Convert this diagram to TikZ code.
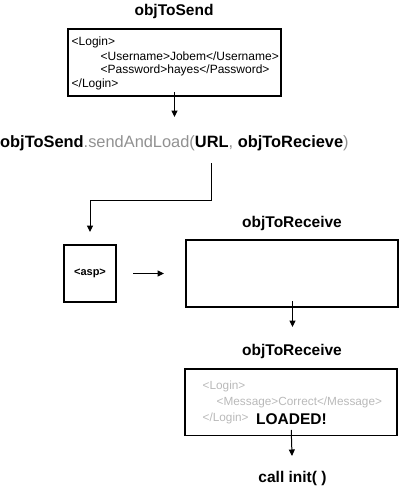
\documentclass[tikz,border=0pt]{standalone}
\usepackage{fontspec}
\setmainfont{Liberation Sans}
\usetikzlibrary{arrows.meta}
\definecolor{midgrey}{RGB}{145,145,145}
\definecolor{lightgrey}{RGB}{185,185,185}
\begin{document}
\begin{tikzpicture}[x=1pt,y=-1pt,
  title/.style={font=\fontsize{15.5}{18}\selectfont\bfseries, anchor=base, inner sep=0pt},
  box/.style={draw, line width=1.8pt, inner sep=0pt, outer sep=0pt},
  xml/.style={font=\fontsize{12}{14}\selectfont, anchor=base west, inner sep=0pt},
  ghost/.style={font=\fontsize{11.8}{14}\selectfont, text=lightgrey, anchor=base west, inner sep=0pt},
  arr/.style={line width=1pt, -{Triangle[length=6.5pt,width=6pt]}}
]
\useasboundingbox (0,0) rectangle (400,487);
% top object
\node[title] (t1) at (174,15.7) {objToSend};
\node[box, minimum width=213pt, minimum height=67pt] (b1) at (174.5,62.5) {};
\node[xml] (l1) at (71.5,45.7) {<Login>};
\node[xml] (l2) at (100.5,60) {<Username>Jobem</Username>};
\node[xml] (l3) at (100.5,74) {<Password>hayes</Password>};
\node[xml] (l4) at (71.5,87.5) {</Login>};
% call line
\node[anchor=base west, inner sep=0pt, font=\fontsize{16.4}{19}\selectfont] (call) at (0,147.3)
  {\textbf{objToSend}\textcolor{midgrey}{.sendAndLoad(}\textbf{URL}\textcolor{midgrey}{, }\textbf{objToRecieve}\textcolor{midgrey}{)}};
\coordinate (a1e) at (174.5,117);
\draw[arr] ([yshift=4pt]b1.south) -- (a1e);
% asp
\node[box, minimum width=52pt, minimum height=57pt, font=\fontsize{11}{13}\selectfont\bfseries] (asp) at (90,273.5) {<asp>};
\coordinate (c2s) at (211,163);
\draw[arr] (c2s) -- ++(0,37) -| ([yshift=13pt]asp.north);
% first receive
\node[title] (t2) at (292,227) {objToReceive};
\node[box, minimum width=212pt, minimum height=67pt] (b2) at (292,273.5) {};
\draw[arr] ([xshift=17pt]asp.east) -- ([xshift=-22pt]b2.west);
\coordinate (a4e) at (292.5,327);
\draw[arr] ([xshift=0.5pt,yshift=6pt]b2.south) -- (a4e);
% second receive
\node[title] (t3) at (292,355.5) {objToReceive};
\node[box, minimum width=212pt, minimum height=66.5pt] (b3) at (291.25,402.25) {};
\node[ghost] (g1) at (202.5,389) {<Login>};
\node[ghost] (g2) at (216.5,405) {<Message>Correct</Message>};
\node[ghost] (g3) at (202.5,421.5) {</Login>};
\node[anchor=base west, inner sep=0pt, font=\fontsize{15.5}{18}\selectfont\bfseries] (loaded) at (256,424.3) {LOADED!};
\coordinate (a5e) at (292,456);
\draw[arr] ([yshift=5.5pt]b3.south) -- (a5e);
\node[title] (init) at (292.5,482.5) {call init( )};
\end{tikzpicture}
\end{document}
